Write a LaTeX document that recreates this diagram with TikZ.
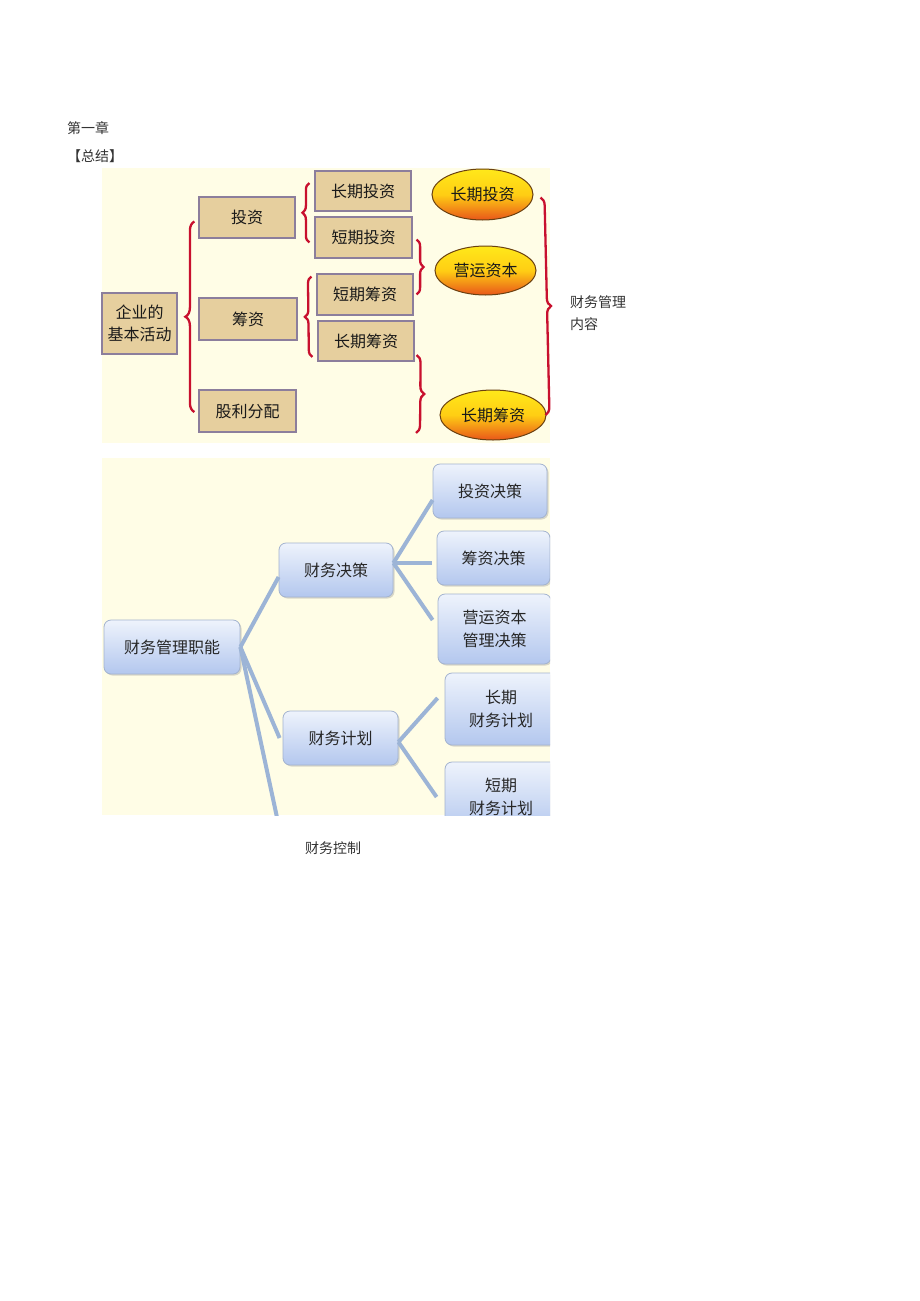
\documentclass[tikz,border=0pt]{standalone}
\usepackage{fontspec}
\setmainfont{Noto Sans CJK SC}
\usetikzlibrary{shapes.geometric,decorations.pathreplacing,shadows}
\definecolor{paper}{HTML}{FFFDE6}
\definecolor{boxtan}{HTML}{E6CF9E}
\definecolor{tanedge}{HTML}{8C7E9C}
\definecolor{bracered}{HTML}{C8102E}
\definecolor{ovaltop}{HTML}{FFE81A}
\definecolor{ovalbot}{HTML}{E8561A}
\definecolor{ovaledge}{HTML}{6A4010}
\definecolor{bluetop}{HTML}{EEF3FC}
\definecolor{bluebot}{HTML}{B3C7EE}
\definecolor{blueedge}{HTML}{A3B3CF}
\definecolor{branch}{HTML}{9CB4D6}
\tikzset{
  plain/.style={inner sep=0pt, anchor=west, text=black!80, font=\fontsize{14}{22}\selectfont},
  tanbox/.style={draw=tanedge, fill=boxtan, line width=1.2pt, inner sep=0pt, align=center,
    text=black!90, font=\fontsize{16}{22}\selectfont},
  oval/.style={ellipse, draw=ovaledge, line width=1pt, top color=ovaltop, bottom color=ovalbot,
    middle color=ovaltop!75!orange, inner sep=0pt, text=black!90, font=\fontsize{16}{22}\selectfont},
  redbrace/.style={draw=bracered, line width=2.3pt, decorate, decoration={brace, amplitude=#1}},
  bluebox/.style={rounded corners=7pt, draw=blueedge, line width=0.8pt, top color=bluetop,
    bottom color=bluebot, drop shadow={shadow xshift=1.5pt, shadow yshift=-1.5pt, opacity=0.3},
    inner sep=0pt, align=center, text=black!85, font=\fontsize{16}{23}\selectfont},
  branchline/.style={draw=branch, line width=4pt}
}
\begin{document}
\begin{tikzpicture}[x=1pt,y=-1pt]
  \useasboundingbox[fill=white] (0,0) rectangle (920,1301);
  \node[plain] (chap) at (67,128) {第一章};
  \node[plain] (summ) at (67,156) {【总结】};

  % upper panel: activities
  \fill[paper] (102,168) rectangle (550,443);
  \node[tanbox, minimum width=75, minimum height=61] (act) at (139.5,323.5) {企业的\\基本活动};
  \node[tanbox, minimum width=96, minimum height=41] (inv) at (247,217.5) {投资};
  \node[tanbox, minimum width=98, minimum height=42] (fin) at (248,319) {筹资};
  \node[tanbox, minimum width=97, minimum height=42] (div) at (247.5,411) {股利分配};
  \node[tanbox, minimum width=96, minimum height=40] (linv) at (363,191) {长期投资};
  \node[tanbox, minimum width=97, minimum height=41] (sinv) at (363.5,237.5) {短期投资};
  \node[tanbox, minimum width=96, minimum height=41] (sfin) at (365,294.5) {短期筹资};
  \node[tanbox, minimum width=96, minimum height=40] (lfin) at (366,341) {长期筹资};
  \node[oval, minimum width=101, minimum height=51] (olinv) at (482.5,194.5) {长期投资};
  \node[oval, minimum width=101, minimum height=49] (owork) at (485.5,270.5) {营运资本};
  \node[oval, minimum width=106, minimum height=50] (olfin) at (493,415) {长期筹资};
  \node[plain, align=left] (cont) at (570,313) {财务管理\\内容};

  \draw[redbrace=9] ([xshift=-4pt,yshift=-1pt]div.west) -- ([xshift=-4pt,yshift=-4pt]inv.west);
  \draw[redbrace=7] ([xshift=-5pt,yshift=-5pt]sinv.west) -- ([xshift=-5pt,yshift=8pt]linv.west);
  \draw[redbrace=7] ([xshift=-5pt,yshift=-16pt]lfin.west) -- ([xshift=-5pt,yshift=18pt]sfin.west);
  \draw[redbrace=7] ([xshift=4pt,yshift=-2pt]sinv.east) -- ([xshift=3pt,yshift=0pt]sfin.east);
  \draw[redbrace=8] ([xshift=2pt,yshift=-14pt]lfin.east) -- (416,433);
  \draw[redbrace=8] ([xshift=7pt,yshift=-3pt]olinv.east) -- ([xshift=-1pt,yshift=0pt]olfin.east);

  % lower panel: functions
  \fill[paper] (102,458) rectangle (550,815);
  \begin{scope}
    \clip (102,458) rectangle (550,815);
    \node[bluebox, minimum width=136, minimum height=54] (root) at (172,647) {财务管理职能};
    \node[bluebox, minimum width=114, minimum height=54] (dec) at (336,570) {财务决策};
    \node[bluebox, minimum width=115, minimum height=54] (plan) at (340.5,738) {财务计划};
    \node[bluebox, minimum width=114, minimum height=54] (dinv) at (490,491) {投资决策};
    \node[bluebox, minimum width=113, minimum height=54] (dfin) at (493.5,558) {筹资决策};
    \node[bluebox, minimum width=113, minimum height=70] (dwork) at (494.5,629) {营运资本\\管理决策};
    \node[bluebox, minimum width=112, minimum height=72] (plong) at (501,709) {长期\\财务计划};
    \node[bluebox, minimum width=112, minimum height=70] (pshort) at (501,797) {短期\\财务计划};
    \coordinate (ctrl) at (284,850);
    \draw[branchline] (root.east) -- ([yshift=-7pt]dec.west);
    \draw[branchline] (root.east) -- ([xshift=-3pt]plan.west);
    \draw[branchline] (root.east) -- (ctrl);
    \draw[branchline] ([yshift=7pt]dec.east) -- ([yshift=-9pt]dinv.west);
    \draw[branchline] ([yshift=7pt]dec.east) -- ([xshift=-5pt,yshift=-5pt]dfin.west);
    \draw[branchline] ([yshift=7pt]dec.east) -- ([xshift=-5pt,yshift=9pt]dwork.west);
    \draw[branchline] ([yshift=-4pt]plan.east) -- ([xshift=-7pt,yshift=11pt]plong.west);
    \draw[branchline] ([yshift=-4pt]plan.east) -- ([xshift=-8pt]pshort.west);
  \end{scope}
  \node[plain] (ctrltext) at (305,848) {财务控制};
\end{tikzpicture}
\end{document}
